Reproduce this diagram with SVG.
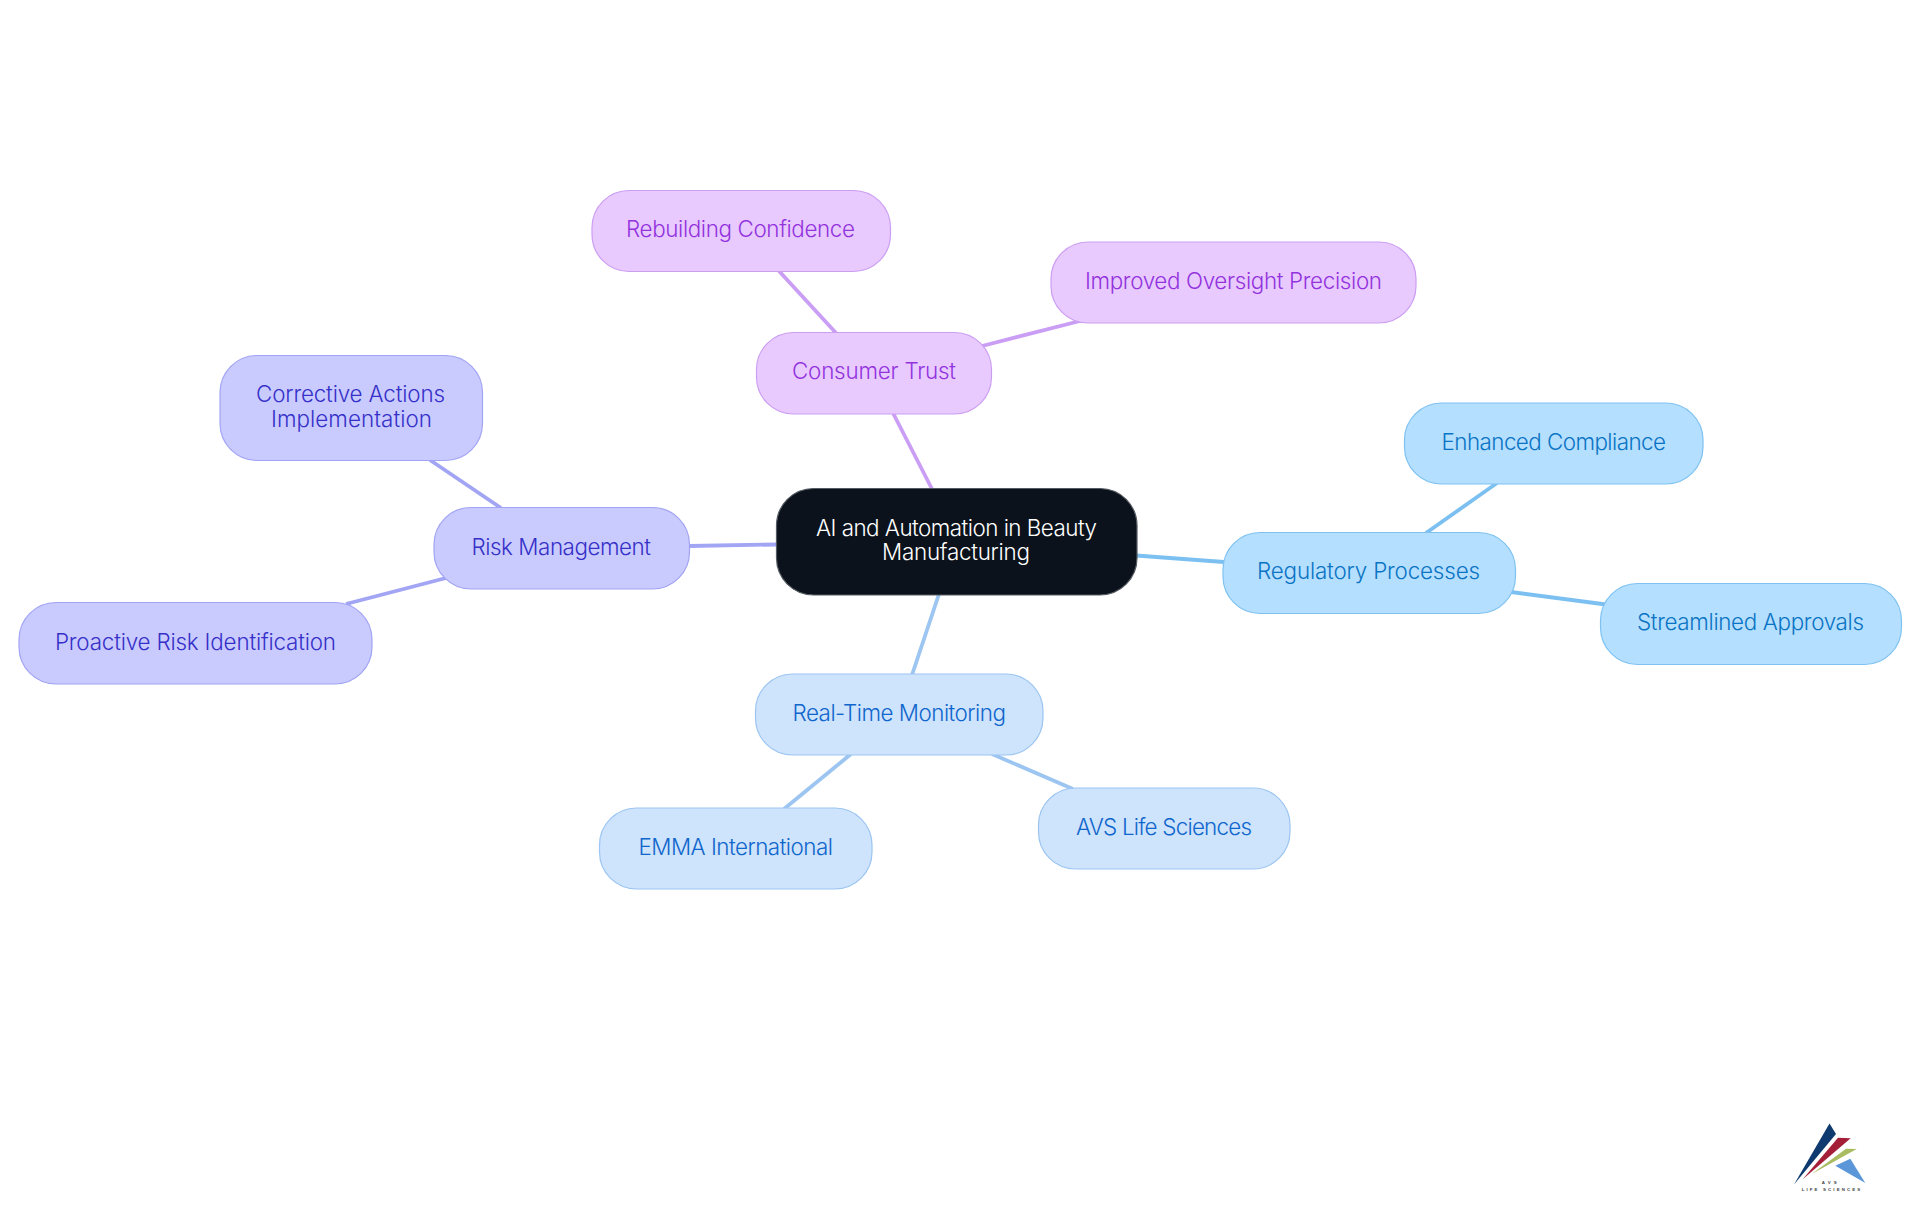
<svg xmlns="http://www.w3.org/2000/svg" width="1920" height="1215" viewBox="0 0 1920 1215">
<style>
text{font-family:"Inter","Noto Sans","Liberation Sans",sans-serif;font-size:22.4px;font-weight:350}
rect{stroke-width:1.2}
.edge{fill:none;stroke-width:3.8}
.p rect{fill:#E8CAFF;stroke:#CC9EF2}.p text{fill:#9333DD}.ep{stroke:#CB9EF5}
.i rect{fill:#C9CBFF;stroke:#A2A4F4}.i text{fill:#3630C8}.ei{stroke:#A2A4F4}
.s rect{fill:#B5DFFF;stroke:#7FC2F1}.s text{fill:#0A74C4}.es{stroke:#7CC0F2}
.b rect{fill:#CEE3FC;stroke:#9CC5F1}.b text{fill:#0F66CC}.eb{stroke:#9CC5F1}
.logo text{font-family:"Liberation Sans",sans-serif;font-size:4.4px;font-weight:700;fill:#444}
</style>
<rect width="1920" height="1215" fill="#fff" stroke="none"/>
<g id="connectors">
<line class="edge ep" x1="893" y1="413" x2="932" y2="489"/>
<line class="edge ep" x1="779" y1="271" x2="836" y2="333"/>
<line class="edge ep" x1="982" y1="346" x2="1080" y2="321"/>
<line class="edge ei" x1="689" y1="546" x2="777" y2="544.5"/>
<line class="edge ei" x1="430" y1="460" x2="501" y2="508"/>
<line class="edge ei" x1="446" y1="578" x2="346" y2="604"/>
<line class="edge es" x1="1136" y1="555.5" x2="1224" y2="562"/>
<line class="edge es" x1="1426" y1="533" x2="1497" y2="483"/>
<line class="edge es" x1="1511" y1="592" x2="1606" y2="604.5"/>
<line class="edge eb" x1="939" y1="594" x2="912" y2="675"/>
<line class="edge eb" x1="851" y1="754" x2="784" y2="809"/>
<line class="edge eb" x1="992" y1="754" x2="1073" y2="789"/>
</g>
<g id="center">
<rect x="776.5" y="488.5" width="360.5" height="106.5" rx="37" fill="#0B121B" stroke="#555B62"/>
<text x="816" y="536" textLength="281" fill="#fff">AI and Automation in Beauty</text>
<text x="882" y="560" textLength="148" fill="#fff">Manufacturing</text>
</g>
<g id="consumer-trust" class="p">
<rect x="756.5" y="332.5" width="235" height="81.5" rx="37"/>
<text x="792" y="379" textLength="164">Consumer Trust</text>
</g>
<g id="rebuilding-confidence" class="p">
<rect x="592" y="190.5" width="298.5" height="81" rx="37"/>
<text x="626" y="237" textLength="229">Rebuilding Confidence</text>
</g>
<g id="improved-oversight" class="p">
<rect x="1051" y="242" width="365" height="81" rx="37"/>
<text x="1085" y="289" textLength="297">Improved Oversight Precision</text>
</g>
<g id="risk-management" class="i">
<rect x="434" y="507.5" width="255.5" height="81.5" rx="37"/>
<text x="471.5" y="555" textLength="179.5">Risk Management</text>
</g>
<g id="corrective-actions" class="i">
<rect x="220" y="355.5" width="262.5" height="105" rx="37"/>
<text x="256" y="402" textLength="189">Corrective Actions</text>
<text x="271" y="427" textLength="161">Implementation</text>
</g>
<g id="proactive-risk" class="i">
<rect x="19" y="602.5" width="353" height="81.5" rx="37"/>
<text x="55" y="650" textLength="281">Proactive Risk Identification</text>
</g>
<g id="regulatory-processes" class="s">
<rect x="1223" y="532.5" width="292.5" height="81" rx="37"/>
<text x="1257" y="579" textLength="223">Regulatory Processes</text>
</g>
<g id="enhanced-compliance" class="s">
<rect x="1404.5" y="403" width="298.5" height="81" rx="37"/>
<text x="1441.5" y="450" textLength="224.5">Enhanced Compliance</text>
</g>
<g id="streamlined-approvals" class="s">
<rect x="1600.5" y="583.5" width="301" height="81" rx="37"/>
<text x="1637" y="630" textLength="227">Streamlined Approvals</text>
</g>
<g id="real-time-monitoring" class="b">
<rect x="755.5" y="674" width="287.5" height="81" rx="37"/>
<text x="792.5" y="721" textLength="213.5">Real-Time Monitoring</text>
</g>
<g id="emma-international" class="b">
<rect x="599.5" y="808" width="272.5" height="81" rx="37"/>
<text x="638.5" y="855" textLength="194.5">EMMA International</text>
</g>
<g id="avs-life-sciences" class="b">
<rect x="1038.5" y="788" width="251.5" height="81" rx="37"/>
<text x="1076" y="835" textLength="176">AVS Life Sciences</text>
</g>
<g id="logo" class="logo">
<polygon points="1829.5,1123.5 1836,1134 1794,1184.5" fill="#0F3A70"/>
<polygon points="1838,1137.7 1850.7,1138.3 1802.7,1179.3" fill="#A51E38"/>
<polygon points="1846,1148.7 1856.7,1149 1811.7,1174" fill="#A9BC62"/>
<polygon points="1835.3,1165.7 1850.3,1158.7 1865.3,1183" fill="#5B97D8"/>
<text x="1821.7" y="1184" textLength="15">AVS</text>
<text x="1801.7" y="1191" textLength="58.5">LIFE SCIENCES</text>
</g>
</svg>
